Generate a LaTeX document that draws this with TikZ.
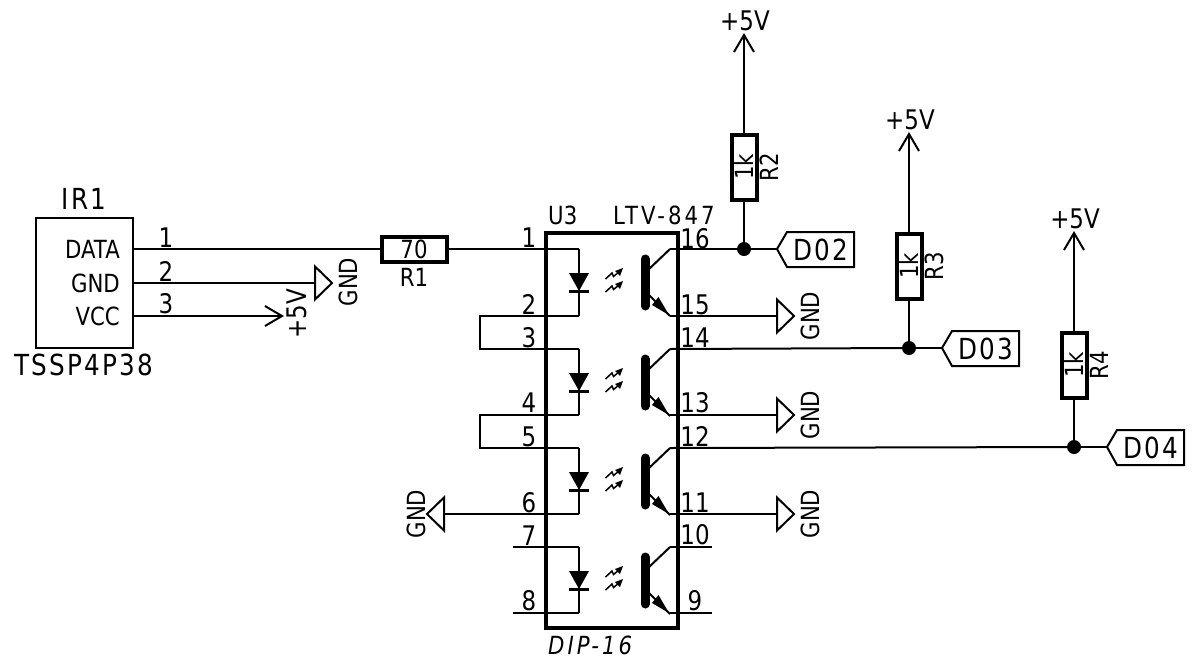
\documentclass[tikz,border=0pt]{standalone}
\usepackage{fontspec}
\newfontfamily\kifont[FakeStretch=.85]{DejaVu Sans}
\newfontfamily\kibigfont[FakeStretch=.85,LetterSpace=8]{DejaVu Sans}
\newfontfamily\kiwidefont[FakeStretch=.85,LetterSpace=12]{DejaVu Sans}
\tikzset{
  wire/.style={line width=2pt},
  txt/.style={inner sep=0pt,font=\kifont\fontsize{25}{25}\selectfont},
  widetxt/.style={inner sep=0pt,font=\kiwidefont\fontsize{25}{25}\selectfont},
  bigtxt/.style={inner sep=0pt,font=\kibigfont\fontsize{29}{29}\selectfont},
  pinno/.style={inner sep=0pt,font=\kifont\fontsize{27}{27}\selectfont},
  supply/.style={inner sep=0pt,font=\kifont\fontsize{27}{27}\selectfont},
  res/.style={draw,line width=4pt,minimum width=65pt,minimum height=25pt,inner sep=0pt,outer sep=2pt,font=\kifont\fontsize{25}{25}\selectfont},
  dot/.style={circle,fill=black,inner sep=0pt,minimum size=14pt},
  gnd/.pic={\draw[wire,line join=miter] (0,-16.5)--(17,0)--(0,16.5)--cycle;},
  vcc/.pic={\draw[wire] (-17,-10)--(0,0)--(-17,10);}
}
\begin{document}
\begin{tikzpicture}[x=1pt,y=-1pt,line cap=butt]
\useasboundingbox (0,0) rectangle (1193,667);
% IR receiver
\node[draw,line width=2pt,minimum width=97pt,minimum height=130pt,inner sep=0pt] (IR1) at (84.5,283) {};
\node[bigtxt] (IR1name) at (84,199) {IR1};
\node[bigtxt] (IR1type) at (84,365) {TSSP4P38};
\node[txt,anchor=east] (data) at (120,249) {DATA};
\node[txt,anchor=east] (gndpin) at (120,283) {GND};
\node[txt,anchor=east] (vccpin) at (120,316) {VCC};
\coordinate (ir1) at (134,249);
\coordinate (ir2) at (134,283);
\coordinate (ir3) at (134,316);
\node[pinno] (irn1) at (166,238) {1};
\node[pinno] (irn2) at (166,271) {2};
\node[pinno] (irn3) at (166,304) {3};
% package
\draw[line width=4pt] (546,233) rectangle (678,628);
\node[txt,anchor=west] (U3) at (548,215) {U3};
\node[widetxt,anchor=west] (LTV) at (613,215) {LTV-847};
\node[widetxt,anchor=west] (DIP) at (548,645) {\itshape DIP-16};
% the four channels
\foreach \n/\t/\b in {1/249/316,2/349/415,3/448/514,4/547/613}{
  \coordinate (la\n) at (579,\t);
  \coordinate (lk\n) at (579,\b);
  \coordinate (c\n) at (670,\t);
  \coordinate (e\n) at (670,\b);
  \draw[wire] (la\n)--(lk\n);
  \begin{scope}[shift={(0,\t)}]
    \fill (569,24)--(589,24)--(579,42)--cycle;
    \draw[line width=3.5pt] (569,42.5)--(589,42.5);
    \foreach \d in {0,13}{
      \draw[line width=1.5pt] (605.5,{30+\d})--(612,{24+\d})--(613.5,{27.5+\d})--(619,{23+\d});
      \fill (623,{19+\d})--(615,{22+\d})--(620,{27+\d})--cycle;
    }
    \draw[line width=9pt,line cap=round] (645,10)--(645,57);
    \draw[wire] (648,21)--(670,0);
    \draw[wire] (648,45)--(670,67);
    \fill (652,56)--(658.5,48)--(669,66)--cycle;
  \end{scope}
}
% left pins
\coordinate (loop1) at (480,316);
\coordinate (loop2) at (480,349);
\coordinate (loop3) at (480,415);
\coordinate (loop4) at (480,448);
\draw[wire] (lk1)--(loop1)--(loop2)--(la2);
\draw[wire] (lk2)--(loop3)--(loop4)--(la3);
\coordinate (p7) at (513,547);
\coordinate (p8) at (513,613);
\draw[wire] (p7)--(la4);
\draw[wire] (p8)--(lk4);
\foreach \p/\y in {1/238,2/304,3/338,4/403,5/437,6/503,7/536,8/601}
  \node[pinno] (pin\p) at (529,\y) {\p};
\foreach \p/\y in {16/239,15/305,14/338,13/403,12/436,11/503,10/535,9/601}
  \node[pinno] (pin\p) at (695,\y) {\p};
\coordinate (p9) at (712,613);
\coordinate (p10) at (712,547);
\draw[wire] (c4)--(p10);
\draw[wire] (e4)--(p9);
% R1
\node[res] (R1) at (414,249) {70};
\node[txt] (R1name) at (414,277) {R1};
\draw[wire] (ir1)--(R1.west);
\draw[wire] (R1.east)--(la1);
% ground and supply symbols
\coordinate (g1) at (315,283);
\draw[wire] (ir2)--(g1);
\pic at (g1) {gnd};
\node[txt,rotate=90] (gnd1) at (348,282) {GND};
\coordinate (v1) at (282,316);
\draw[wire] (ir3)--(v1);
\pic at (v1) {vcc};
\node[supply,rotate=90] (plus1) at (297,314) {+5V};
\foreach \e/\y in {1/316,2/415,3/514}{
  \coordinate (gr\e) at (777,\y);
  \draw[wire] (e\e)--(gr\e);
  \pic at (gr\e) {gnd};
  \node[txt,rotate=90] (gndr\e) at (810,\y) {GND};
}
\coordinate (gl) at (444,514);
\draw[wire] (lk3)--(gl);
\pic[rotate=180] at (gl) {gnd};
\node[txt,rotate=90] (gndl) at (416,514) {GND};
% pull-ups
\foreach \r/\x/\y/\c/\lab in {R2/744/167/1/D02,R3/909/266/2/D03,R4/1074/365/3/D04}{
  \node[res,rotate=90] (\r) at (\x,\y) {1k};
  \node[txt,rotate=90] (\r name) at (\x+25,\y) {\r};
  \coordinate (top\r) at (\x,\y-132);
  \draw[wire] (\r.east)--(top\r);
  \pic[rotate=90] at (top\r) {vcc};
  \node[supply] (sup\r) at (\x+1,\y-146) {+5V};
  \coordinate (net\r) at (\x,\y+82);
  \node[dot] (dot\r) at (net\r) {};
  \draw[wire] (\r.west)--(dot\r);
  \draw[wire] (c\c)--(dot\r);
  \draw[wire,line join=miter] (\x+33,\y+82)--(\x+43,\y+65)--(\x+110,\y+65)--(\x+110,\y+100)--(\x+43,\y+100)--cycle;
  \coordinate (tip\r) at (\x+33,\y+82);
  \draw[wire] (dot\r)--(tip\r);
  \node[bigtxt] (lab\r) at (\x+77,\y+83) {\lab};
}
\end{tikzpicture}
\end{document}
